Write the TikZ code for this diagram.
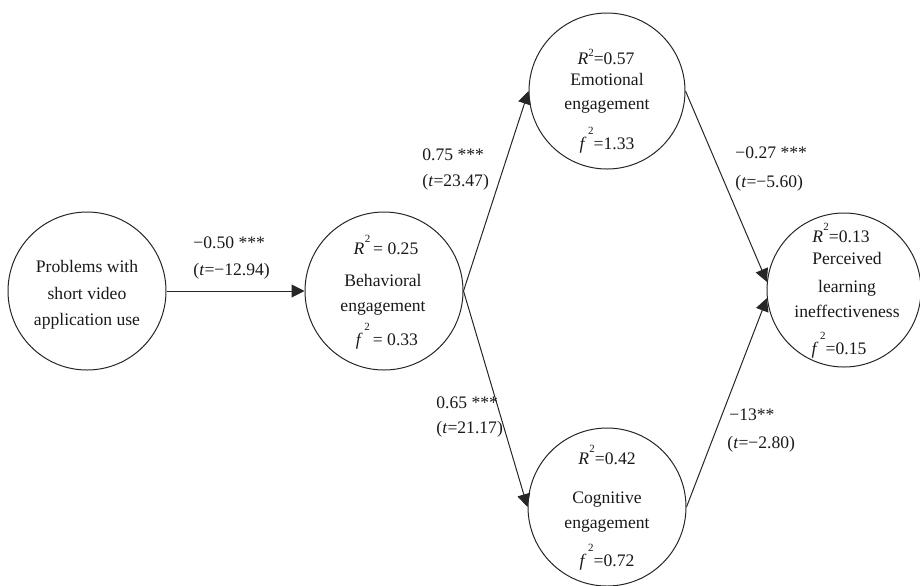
\documentclass[tikz,border=0pt]{standalone}
\usepackage{fontspec}
\setmainfont{Liberation Serif}
\usetikzlibrary{arrows.meta}

% superscript 2 set high above the letter, as in the path model labels
\newcommand\rsq{\textit{R}\kern0.2pt\raisebox{6pt}{\fontsize{5.5}{6}\selectfont 2}}
\newcommand\rsqn{\textit{R}\raisebox{4pt}{\fontsize{5.5}{6}\selectfont 2}}
\newcommand\fsq{\textit{f}\kern0.8pt\raisebox{7.5pt}{\fontsize{5.5}{6}\selectfont 2}}

\begin{document}
\begin{tikzpicture}[x=0.5pt, y=-0.5pt,
  construct/.style={circle, draw=black!85, line width=0.5pt, inner sep=0pt, minimum size=#1},
  construct/.default=79pt,
  link/.style={draw=black!85, line width=0.5pt, -{Triangle[length=6.5pt,width=6.5pt]}},
  txt/.style={anchor=base, inner sep=0pt, text=black!90, font=\fontsize{8.8}{10.5}\selectfont},
  lbl/.style={anchor=base west, inner sep=0pt, text=black!90, font=\fontsize{8.8}{10.5}\selectfont}]
\useasboundingbox (0,0) rectangle (920,585);

% latent constructs
\node[construct]       (prob) at (87,291)  {};
\node[construct]       (beh)  at (384,291) {};
\node[construct=78pt]  (emo)  at (607,91)  {};
\node[construct]       (cog)  at (607,507) {};
\node[construct=77pt]  (per)  at (844,290) {};

% construct texts
\node[txt] (prob-a) at (87,272) {Problems with};
\node[txt] (prob-b) at (87,299) {short video};
\node[txt] (prob-c) at (87,325) {application use};

\node[txt] (beh-r) at (386,254) {\rsq\,= 0.25};
\node[txt] (beh-a) at (383,286) {Behavioral};
\node[txt] (beh-b) at (383,311) {engagement};
\node[txt] (beh-f) at (387,345) {\fsq\,= 0.33};

\node[txt] (emo-r) at (606,64)  {\rsqn=0.57};
\node[txt] (emo-a) at (607,85)  {Emotional};
\node[txt] (emo-b) at (607,109) {engagement};
\node[txt] (emo-f) at (607,149) {\fsq=1.33};

\node[txt] (cog-r) at (607,464) {\rsq=0.42};
\node[txt] (cog-a) at (607,503) {Cognitive};
\node[txt] (cog-b) at (607,528) {engagement};
\node[txt] (cog-f) at (607,566) {\fsq=0.72};

\node[txt] (per-r) at (841,242) {\rsq=0.13};
\node[txt] (per-a) at (847,264) {Perceived};
\node[txt] (per-b) at (847,292) {learning};
\node[txt] (per-c) at (847,317) {ineffectiveness};
\node[txt] (per-f) at (839,354) {\fsq=0.15};

% structural paths
\draw[link] (prob.east) -- (beh.west);
\draw[link] (beh.east) -- (emo.west);
\draw[link] (beh.east) -- (cog.west);
\draw[link] (emo.east) -- (per.174);
\draw[link] (cog.east) -- (per.186);

% path coefficients
\node[lbl] (c1a) at (193,248) {−0.50 ***};
\node[lbl] (c1b) at (193,275) {(\textit{t}=−12.94)};
\node[lbl] (c2a) at (422,160) {0.75 ***};
\node[lbl] (c2b) at (422,186) {(\textit{t}=23.47)};
\node[lbl] (c3a) at (436,408) {0.65 ***};
\node[lbl] (c3b) at (436,433) {(\textit{t}=21.17)};
\node[lbl] (c4a) at (735,158) {−0.27 ***};
\node[lbl] (c4b) at (735,187) {(\textit{t}=−5.60)};
\node[lbl] (c5a) at (729,420) {−13**};
\node[lbl] (c5b) at (727,448) {(\textit{t}=−2.80)};
\end{tikzpicture}
\end{document}
